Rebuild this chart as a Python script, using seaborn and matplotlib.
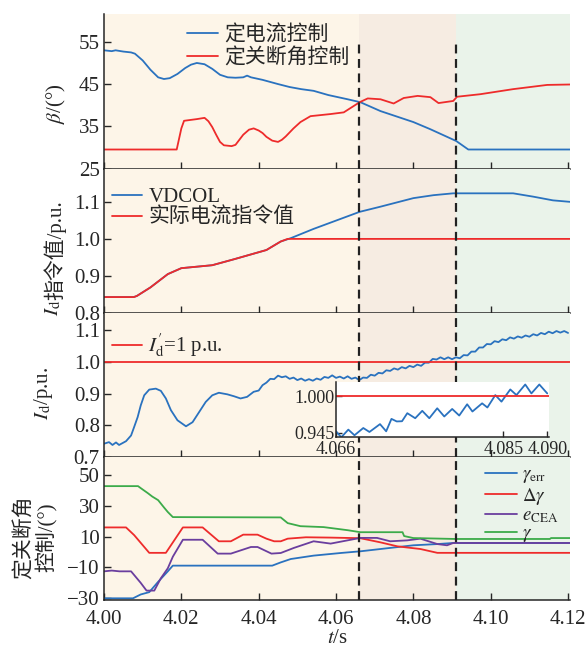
import numpy as np
import pandas as pd
import matplotlib
matplotlib.use('Agg')
import matplotlib.pyplot as plt
import seaborn as sns

# ---------------------------------------------------------------
# data
# ---------------------------------------------------------------

# panel 1: beta
t_beta_i = [4.000, 4.002, 4.003, 4.005, 4.007, 4.008, 4.010, 4.012, 4.014, 4.0155,
            4.017, 4.019, 4.021, 4.0225, 4.024, 4.026, 4.028, 4.030, 4.032, 4.034,
            4.036, 4.037, 4.038, 4.041, 4.045, 4.048, 4.051, 4.0542, 4.058, 4.063,
            4.0663, 4.0715, 4.080, 4.0844, 4.0911, 4.0942, 4.1205]
beta_i = [53.0, 52.8, 53.0, 52.7, 52.5, 52.2, 50.6, 48.4, 46.6, 46.2,
          46.4, 47.4, 48.8, 49.6, 50.0, 49.7, 48.6, 47.2, 46.6, 46.5,
          46.6, 47.0, 46.6, 46.0, 45.0, 44.3, 43.8, 43.4, 42.4, 41.4,
          40.7, 38.6, 36.0, 34.3, 31.5, 29.5, 29.5]
t_beta_g = [4.000, 4.0188, 4.0200, 4.0207, 4.0215, 4.024, 4.026, 4.027, 4.028, 4.029,
            4.030, 4.031, 4.033, 4.034, 4.035, 4.036, 4.0375, 4.0387, 4.040, 4.041,
            4.042, 4.0435, 4.045, 4.046, 4.047, 4.049, 4.0508, 4.0534, 4.0586, 4.062,
            4.0661, 4.0682, 4.0715, 4.0749, 4.0775, 4.0811, 4.0844, 4.0865, 4.0903, 4.0913,
            4.0973, 4.1058, 4.1146, 4.1205]
beta_g = [29.5, 29.5, 34.5, 36.3, 36.4, 36.7, 37.0, 36.2, 34.8, 33.0,
          31.3, 30.5, 30.3, 30.6, 31.8, 33.0, 34.2, 34.5, 34.0, 33.4,
          32.5, 31.6, 31.3, 31.8, 32.6, 34.5, 36.0, 37.4, 37.9, 38.3,
          40.7, 41.6, 41.4, 40.4, 41.7, 42.2, 41.9, 40.5, 41.0, 42.0,
          42.6, 43.8, 44.8, 44.9]

# panel 2: current order
t_vdcol = [4.000, 4.0077, 4.0085, 4.012, 4.0165, 4.020, 4.025, 4.028, 4.0336, 4.042,
           4.0457, 4.0483, 4.0542, 4.0661, 4.0715, 4.080, 4.0852, 4.0903, 4.1058, 4.111,
           4.1161, 4.1205]
vdcol = [0.843, 0.843, 0.846, 0.869, 0.905, 0.921, 0.926, 0.929, 0.945, 0.970,
         0.993, 1.002, 1.027, 1.073, 1.087, 1.110, 1.118, 1.123, 1.123, 1.114,
         1.104, 1.100]
t_iord = [4.000, 4.0077, 4.0085, 4.012, 4.0165, 4.020, 4.025, 4.028, 4.0336, 4.042,
          4.0457, 4.0475, 4.1205]
iord = [0.843, 0.843, 0.846, 0.869, 0.905, 0.921, 0.926, 0.929, 0.945, 0.970,
        0.993, 1.000, 1.000]

# panel 3: measured current
t_id = [4.0000, 4.0013, 4.0022, 4.0031, 4.0039, 4.0048, 4.0057, 4.0070, 4.0078, 4.0087,
        4.0095, 4.0104, 4.0117, 4.0134, 4.0147, 4.0160, 4.0173, 4.0190, 4.0212, 4.0229,
        4.0246, 4.0263, 4.0280, 4.0297, 4.0319, 4.0336, 4.0353, 4.0370, 4.0387,
        4.040, 4.041, 4.042, 4.043, 4.044, 4.045, 4.046, 4.047, 4.048, 4.049,
        4.050, 4.051, 4.052, 4.053, 4.054, 4.055, 4.056, 4.057, 4.058, 4.059,
        4.060, 4.061, 4.062, 4.063, 4.064, 4.065, 4.066, 4.067, 4.068, 4.069,
        4.070, 4.071, 4.072, 4.073, 4.074, 4.075, 4.076, 4.077, 4.078, 4.079,
        4.080, 4.081, 4.082, 4.083, 4.084, 4.085, 4.086, 4.087, 4.088, 4.089,
        4.090, 4.091, 4.092, 4.093, 4.094, 4.095, 4.096, 4.097, 4.098, 4.099,
        4.100, 4.101, 4.102, 4.103, 4.104, 4.105, 4.106, 4.107, 4.108, 4.109,
        4.110, 4.111, 4.112, 4.113, 4.114, 4.115, 4.116, 4.117, 4.118, 4.119,
        4.120]
i_d = [0.742, 0.747, 0.738, 0.746, 0.738, 0.744, 0.750, 0.768, 0.795, 0.826,
       0.863, 0.895, 0.913, 0.916, 0.909, 0.885, 0.848, 0.816, 0.797, 0.810,
       0.842, 0.874, 0.895, 0.903, 0.898, 0.892, 0.885, 0.890, 0.906,
       0.910, 0.927, 0.935, 0.947, 0.946, 0.957, 0.952, 0.955, 0.947, 0.951,
       0.943, 0.948, 0.941, 0.946, 0.941, 0.948, 0.944, 0.953, 0.950, 0.958,
       0.950, 0.954, 0.948, 0.955, 0.947, 0.951, 0.943, 0.951, 0.950, 0.960,
       0.957, 0.966, 0.964, 0.974, 0.972, 0.980, 0.976, 0.984, 0.980, 0.988,
       0.984, 0.992, 0.988, 0.998, 0.998, 1.010, 1.008, 1.015, 1.009, 1.015,
       1.009, 1.015, 1.012, 1.022, 1.021, 1.033, 1.033, 1.046, 1.046, 1.057,
       1.056, 1.066, 1.063, 1.072, 1.069, 1.078, 1.074, 1.081, 1.077, 1.084,
       1.080, 1.088, 1.084, 1.092, 1.088, 1.096, 1.091, 1.098, 1.093, 1.098,
       1.092]

# inset of panel 3
t_zoom = [4.0660, 4.0666, 4.0674, 4.0681, 4.0691, 4.0698, 4.0710, 4.0717, 4.0723, 4.0729,
          4.0735, 4.0741, 4.0750, 4.0758, 4.0766, 4.0775, 4.0783, 4.0792, 4.0800, 4.0809,
          4.0815, 4.0826, 4.0832, 4.0841, 4.0848, 4.0858, 4.0865, 4.0875, 4.0882, 4.0891,
          4.0900]
i_zoom = [0.9475, 0.9386, 0.9500, 0.9416, 0.9524, 0.9465, 0.9582, 0.9475, 0.9660, 0.9622,
          0.9625, 0.9745, 0.9670, 0.9780, 0.9670, 0.9818, 0.9696, 0.9808, 0.9710, 0.9878,
          0.9770, 0.9892, 0.9830, 1.0015, 0.9917, 1.0099, 1.0015, 1.0173, 1.0040, 1.0173,
          1.0040]

# panel 4: extinction angle control
t_gerr = [4.000, 4.0075, 4.0095, 4.0117, 4.014, 4.0165, 4.0178, 4.0435, 4.0457, 4.0483,
          4.0542, 4.0612, 4.0663, 4.0740, 4.080, 4.0862, 4.0903, 4.1205]
g_err = [-30.0, -30.0, -27.5, -26.0, -19.3, -12.5, -8.8, -8.8, -6.7, -4.5,
         -2.3, -0.6, 0.5, 2.7, 4.4, 5.2, 5.9, 5.9]
t_dg = [4.000, 4.0057, 4.0078, 4.0117, 4.0160, 4.0204, 4.0255, 4.0297, 4.0328, 4.036,
        4.0397, 4.042, 4.044, 4.0457, 4.0475, 4.0522, 4.0585, 4.0663, 4.0715, 4.0759,
        4.0818, 4.0862, 4.1205]
d_gamma = [16.0, 16.0, 11.0, -0.5, -0.5, 16.0, 16.0, 7.0, 7.0, 11.3,
           11.3, 8.7, 7.0, 7.0, 8.7, 9.6, 9.4, 9.0, 6.3, 3.7,
           2.0, -0.5, -0.5]
t_cea = [4.000, 4.002, 4.004, 4.007, 4.0095, 4.011, 4.013, 4.0147, 4.0165, 4.0178,
         4.0204, 4.0255, 4.0294, 4.0328, 4.038, 4.0397, 4.0433, 4.0457, 4.0491, 4.0542,
         4.0586, 4.0663, 4.0706, 4.074, 4.0784, 4.0818, 4.0862, 4.0887, 4.0903, 4.1205]
e_cea = [-12.5, -12.0, -12.5, -12.5, -20.0, -25.0, -25.0, -17.0, -10.5, -3.0,
         8.0, 8.0, -1.0, -1.0, 3.3, 3.3, -1.0, -0.6, 2.7, 7.0,
         5.5, 9.2, 9.2, 7.0, 7.6, 8.7, 5.2, 4.4, 5.9, 5.9]
t_gam = [4.000, 4.0088, 4.0095, 4.0113, 4.0125, 4.014, 4.0155, 4.0165, 4.0178, 4.0457,
         4.0475, 4.0508, 4.0568, 4.063, 4.0663, 4.0772, 4.0776, 4.080, 4.091, 4.1153,
         4.1156, 4.1205]
gamma = [42.8, 42.8, 41.5, 38.3, 36.0, 33.7, 29.0, 26.0, 22.7, 22.5,
         18.8, 16.8, 16.2, 14.2, 12.9, 12.9, 10.4, 9.1, 8.5, 8.5,
         9.1, 9.1]

# phase boundaries
t_sw1 = 4.066
t_sw2 = 4.091

# ---------------------------------------------------------------
# style
# ---------------------------------------------------------------
sns.set_theme(style='ticks')
plt.rcParams['font.family'] = ['Liberation Serif', 'Noto Sans CJK SC']
plt.rcParams['mathtext.fontset'] = 'stix'
plt.rcParams['font.size'] = 15
plt.rcParams['axes.labelsize'] = 15
plt.rcParams['axes.linewidth'] = 1.1

c_blue = '#2a72bf'
c_red = '#ee2b2b'
c_purple = '#6a3e9e'
c_green = '#3cab4a'
c_zone = ['#fdf5e8', '#f6ece2', '#eaf3ea']
lw = 1.3
fs = 15

fig = plt.figure(figsize=(5.85, 6.48), dpi=100)
L, W = 104/585, 466/585
ax1 = fig.add_axes([L, 1-168.5/648, W, 154.5/648])
ax2 = fig.add_axes([L, 1-313/648, W, 144.5/648])
ax3 = fig.add_axes([L, 1-457/648, W, 144/648])
ax4 = fig.add_axes([L, 1-600/648, W, 143/648])
axes = [ax1, ax2, ax3, ax4]


def line(ax, t, v, c, lab=None):
    df = pd.DataFrame({'t': t, 'v': v})
    sns.lineplot(data=df, x='t', y='v', ax=ax, color=c, lw=lw, label=lab,
                 estimator=None, sort=False)


for ax in axes:
    ax.axvspan(4.0, t_sw1, color=c_zone[0], lw=0, zorder=0)
    ax.axvspan(t_sw1, t_sw2, color=c_zone[1], lw=0, zorder=0)
    ax.axvspan(t_sw2, 4.125, color=c_zone[2], lw=0, zorder=0)
    ax.spines[['top', 'right']].set_visible(False)
    ax.set_xlim(4.0, 4.1205)
    ax.set_xticks([4.00, 4.02, 4.04, 4.06, 4.08, 4.10, 4.12])
    ax.tick_params(direction='in', length=5, width=1, labelsize=fs, pad=3)

# panel 1
line(ax1, t_beta_i, beta_i, c_blue, '定电流控制')
line(ax1, t_beta_g, beta_g, c_red, '定关断角控制')
ax1.set_ylim(25, 61.6)
ax1.set_yticks([25, 35, 45, 55])
for ts in [t_sw1, t_sw2]:
    ax1.axvline(ts, ymax=(55-25)/36.6, color='#222222', ls=(0, (4, 2.5)), lw=1.6)
ax1.legend(loc='upper left', bbox_to_anchor=(0.178, 0.925), frameon=False,
           borderaxespad=0, borderpad=0, handlelength=1.5, handletextpad=0.3,
           labelspacing=0.12, fontsize=fs)
ax1.set_ylabel(r'$\beta$/(°)', fontsize=fs)
ax1.yaxis.set_label_coords(-0.077, 0.417)

# panel 2
line(ax2, t_vdcol, vdcol, c_blue, 'VDCOL')
line(ax2, t_iord, iord, c_red, '实际电流指令值')
ax2.set_ylim(0.8, 1.19)
ax2.set_yticks([0.8, 0.9, 1.0, 1.1])
ax2.legend(loc='upper left', bbox_to_anchor=(0.017, 0.87), frameon=False,
           borderaxespad=0, borderpad=0, handlelength=1.45, handletextpad=0.3,
           labelspacing=0.05, fontsize=fs)
ax2.set_ylabel('')

# panel 3
line(ax3, t_id, i_d, c_blue)
ax3.axhline(1.0, color=c_red, lw=lw, label=r"$I^{\prime}_\mathrm{d}$=1 p.u.")
ax3.set_ylim(0.7, 1.155)
ax3.set_yticks([0.7, 0.8, 0.9, 1.0, 1.1])
h, l = ax3.get_legend_handles_labels()
ax3.legend(h[-1:], l[-1:], loc='upper left', bbox_to_anchor=(0.017, 0.87), frameon=False,
           borderaxespad=0, borderpad=0, handlelength=1.45, handletextpad=0.3,
           fontsize=fs)
ax3.set_ylabel(r'$I_\mathrm{d}$/p.u.', fontsize=fs)
ax3.yaxis.set_label_coords(-0.105, 0.444)

# panel 4
line(ax4, t_gerr, g_err, c_blue, r'$\gamma_\mathrm{err}$')
line(ax4, t_dg, d_gamma, c_red, r'$\Delta\gamma$')
line(ax4, t_cea, e_cea, c_purple, r'$e_\mathrm{CEA}$')
line(ax4, t_gam, gamma, c_green, r'$\gamma$')
ax4.set_ylim(-31.1, 61.7)
ax4.set_yticks([-30, -10, 10, 30, 50])
ax4.legend(loc='upper left', bbox_to_anchor=(0.818, 0.935), frameon=False,
           borderaxespad=0, borderpad=0, handlelength=1.7, handletextpad=0.25,
           labelspacing=0.02, fontsize=13.5)
ax4.set_ylabel('定关断角\n控制/(°)', fontsize=fs, linespacing=1.05,
               multialignment='center')
ax4.yaxis.set_label_coords(-0.10, 0.44)
ax4.set_xticklabels(['4.00', '4.02', '4.04', '4.06', '4.08', '4.10', '4.12'])
ax4.tick_params(axis='x', pad=7.5)
ax4.set_xlabel(r'$t$/s', fontsize=fs, labelpad=0)

for ax in [ax2, ax3, ax4]:
    for ts in [t_sw1, t_sw2]:
        ax.axvline(ts, color='#222222', ls=(0, (4, 2.5)), lw=1.6)

for ax in [ax1, ax2, ax3]:
    ax.tick_params(labelbottom=False)
    ax.set_xlabel('')

# inset
axin = fig.add_axes([336/585, 1-437/648, 213/585, 55/648])
axin.set_facecolor('white')
line(axin, t_zoom, i_zoom, c_blue)
axin.axhline(1.0, color=c_red, lw=lw)
axin.set_xlim(4.066, 4.0902)
axin.set_ylim(0.939, 1.021)
axin.set_xticks([4.066, 4.085, 4.090])
axin.set_xticklabels(['4.066', '4.085', '4.090'])
axin.set_yticks([0.945, 1.000])
axin.set_yticklabels(['0.945', '1.000'])
axin.spines[['top', 'right']].set_visible(False)
axin.tick_params(direction='in', length=4, width=1, labelsize=13, pad=1)
axin.tick_params(axis='x', pad=3)
axin.set_xlabel('')
axin.set_ylabel('')

# y label of panel 2: italic symbol and Chinese text as two pieces
lab_x = 53/585
lab_i = fig.text(lab_x, 1-316/648, r'$I_\mathrm{d}$', rotation=90,
                 ha='center', va='bottom', fontsize=fs)
fig.canvas.draw()
bb = lab_i.get_window_extent()
y_top = fig.transFigure.inverted().transform((0, bb.y1))[1]
fig.text(lab_x + 2/585, y_top, '指令值/p.u.', rotation=90,
         ha='center', va='bottom', fontsize=fs)

fig.savefig('out.png', dpi=100)
